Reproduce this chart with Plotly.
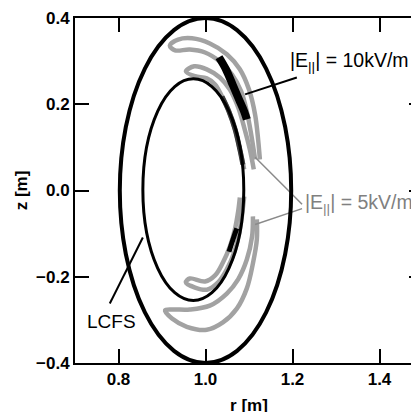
import plotly.graph_objects as go

# ---- flux surfaces: [r_center, z_center, half-width, half-height] ----
wall = [1.0, 0.0, 0.197, 0.400]
lcfs = [0.972, 0.002, 0.116, 0.257]

# ---- |E_par| = 5 kV/m orbit bands (gray) ----
u1_r = [1.125, 1.121, 1.114, 1.100, 1.079, 1.049, 1.010, 0.969, 0.937, 0.918,
        0.930, 0.964, 0.999, 1.033, 1.061, 1.082, 1.095, 1.105, 1.114]
u1_z = [0.072, 0.118, 0.176, 0.234, 0.281, 0.316, 0.341, 0.353, 0.350, 0.336,
        0.325, 0.327, 0.320, 0.299, 0.269, 0.230, 0.183, 0.130, 0.072]

u2_r = [1.111, 1.102, 1.089, 1.075, 1.056, 1.033, 1.003, 0.974, 0.955,
        0.976, 1.003, 1.022, 1.038, 1.054, 1.068, 1.079, 1.089]
u2_z = [0.049, 0.095, 0.146, 0.193, 0.234, 0.262, 0.281, 0.288, 0.276,
        0.265, 0.260, 0.246, 0.218, 0.183, 0.142, 0.095, 0.049]

l1_r = [1.109, 1.107, 1.095, 1.075, 1.049, 1.010, 0.964, 0.925, 0.907,
        0.923, 0.957, 1.003, 1.040, 1.072, 1.095, 1.109, 1.118, 1.118]
l1_z = [-0.060, -0.107, -0.160, -0.206, -0.239, -0.267, -0.276, -0.276, -0.278,
        -0.297, -0.316, -0.323, -0.306, -0.274, -0.227, -0.169, -0.114, -0.067]

l2_r = [1.089, 1.084, 1.077, 1.066, 1.049, 1.029, 1.003, 0.976, 0.955,
        0.964, 0.999, 1.022, 1.040, 1.056, 1.068, 1.075, 1.079]
l2_z = [-0.014, -0.056, -0.102, -0.144, -0.183, -0.213, -0.230, -0.225, -0.213,
        -0.204, -0.211, -0.197, -0.167, -0.130, -0.088, -0.049, -0.016]

# dark band hugging the LCFS (upper)
dark_r = [1.038, 1.054, 1.068, 1.079, 1.086]
dark_z = [0.218, 0.183, 0.142, 0.095, 0.060]

# ---- |E_par| = 10 kV/m regions (black) ----
e10u_r = [1.031, 1.047, 1.063, 1.077, 1.089, 1.095]
e10u_z = [0.309, 0.281, 0.244, 0.211, 0.183, 0.165]
e10l_r = [1.072, 1.066, 1.054]
e10l_z = [-0.088, -0.105, -0.142]

# ---- pointer lines ----
p10_r = [1.091, 1.210]
p10_z = [0.223, 0.262]
p5a_r = [1.114, 1.222]
p5a_z = [0.077, -0.032]
p5b_r = [1.114, 1.222]
p5b_z = [-0.079, -0.042]
plc_r = [0.780, 0.856]
plc_z = [-0.262, -0.109]

xticks = [0.8, 1.0, 1.2, 1.4]
yticks = [-0.4, -0.2, 0.0, 0.2, 0.4]

GRAY = "#a2a2a2"
fig = go.Figure()

def line(r, z, color, width):
    fig.add_trace(go.Scatter(x=r, y=z, mode="lines",
                             line=dict(color=color, width=width, shape="spline"),
                             hoverinfo="skip", showlegend=False))

for r, z in [(u1_r, u1_z), (u2_r, u2_z), (l1_r, l1_z), (l2_r, l2_z)]:
    line(r, z, GRAY, 4.5)
line(dark_r, dark_z, "#3a3a3a", 5)
line(e10u_r, e10u_z, "black", 8)
line(e10l_r, e10l_z, "black", 5)

for r, z, c, w in [(p10_r, p10_z, "black", 2), (p5a_r, p5a_z, "#8a8a8a", 1.5),
                   (p5b_r, p5b_z, "#8a8a8a", 1.5), (plc_r, plc_z, "black", 2)]:
    fig.add_trace(go.Scatter(x=r, y=z, mode="lines", line=dict(color=c, width=w),
                             hoverinfo="skip", showlegend=False))

# dummy trace for right-side ticks
fig.add_trace(go.Scatter(x=[None], y=[None], yaxis="y2", showlegend=False))

for (rc, zc, a, b), w in [(wall, 4), (lcfs, 3)]:
    fig.add_shape(type="circle", xref="x", yref="y",
                  x0=rc - a, x1=rc + a, y0=zc - b, y1=zc + b,
                  line=dict(color="black", width=w), layer="above")

font_ann = dict(family="Liberation Sans, Arial", size=19.5, color="black")
fig.add_annotation(x=1.190, y=0.298, xref="x", yref="y", xanchor="left", yanchor="middle",
                   text="|E<sub>||</sub>| = 10kV/m", showarrow=False, font=font_ann)
fig.add_annotation(x=1.224, y=-0.029, xref="x", yref="y", xanchor="left", yanchor="middle",
                   text="|E<sub>||</sub>| = 5kV/m", showarrow=False,
                   font=dict(family="Liberation Sans, Arial", size=19.5, color="#808080"))
fig.add_annotation(x=0.785, y=-0.304, xref="x", yref="y", xanchor="center", yanchor="middle",
                   text="LCFS", showarrow=False,
                   font=dict(family="Liberation Sans, Arial", size=19, color="black"))

tickfont = dict(family="Liberation Sans, Arial", size=17, color="black", weight="bold")
common = dict(showgrid=False, zeroline=False, ticks="inside", ticklen=14, tickwidth=2,
              tickcolor="black", tickformat=".1f", tickfont=tickfont, automargin=False)

fig.update_layout(
    width=419, height=412,
    margin=dict(l=67, r=4, t=10, b=57, autoexpand=False),
    paper_bgcolor="white", plot_bgcolor="white",
    xaxis=dict(range=[0.7, 1.5], tickvals=xticks, showline=True, linewidth=2,
               linecolor="black", mirror="ticks",
               title=dict(text="r [m]", font=tickfont, standoff=11), **common),
    yaxis=dict(range=[-0.4, 0.4], tickvals=yticks, showline=True, linewidth=2,
               linecolor="black",
               title=dict(text="z [m]", font=tickfont, standoff=4), **common),
    yaxis2=dict(range=[-0.4, 0.4], tickvals=yticks, overlaying="y", side="right",
                showline=False, showticklabels=False, showgrid=False, zeroline=False,
                ticks="inside", ticklen=14, tickwidth=2, tickcolor="black",
                automargin=False),
)

fig.write_html("out.html")
